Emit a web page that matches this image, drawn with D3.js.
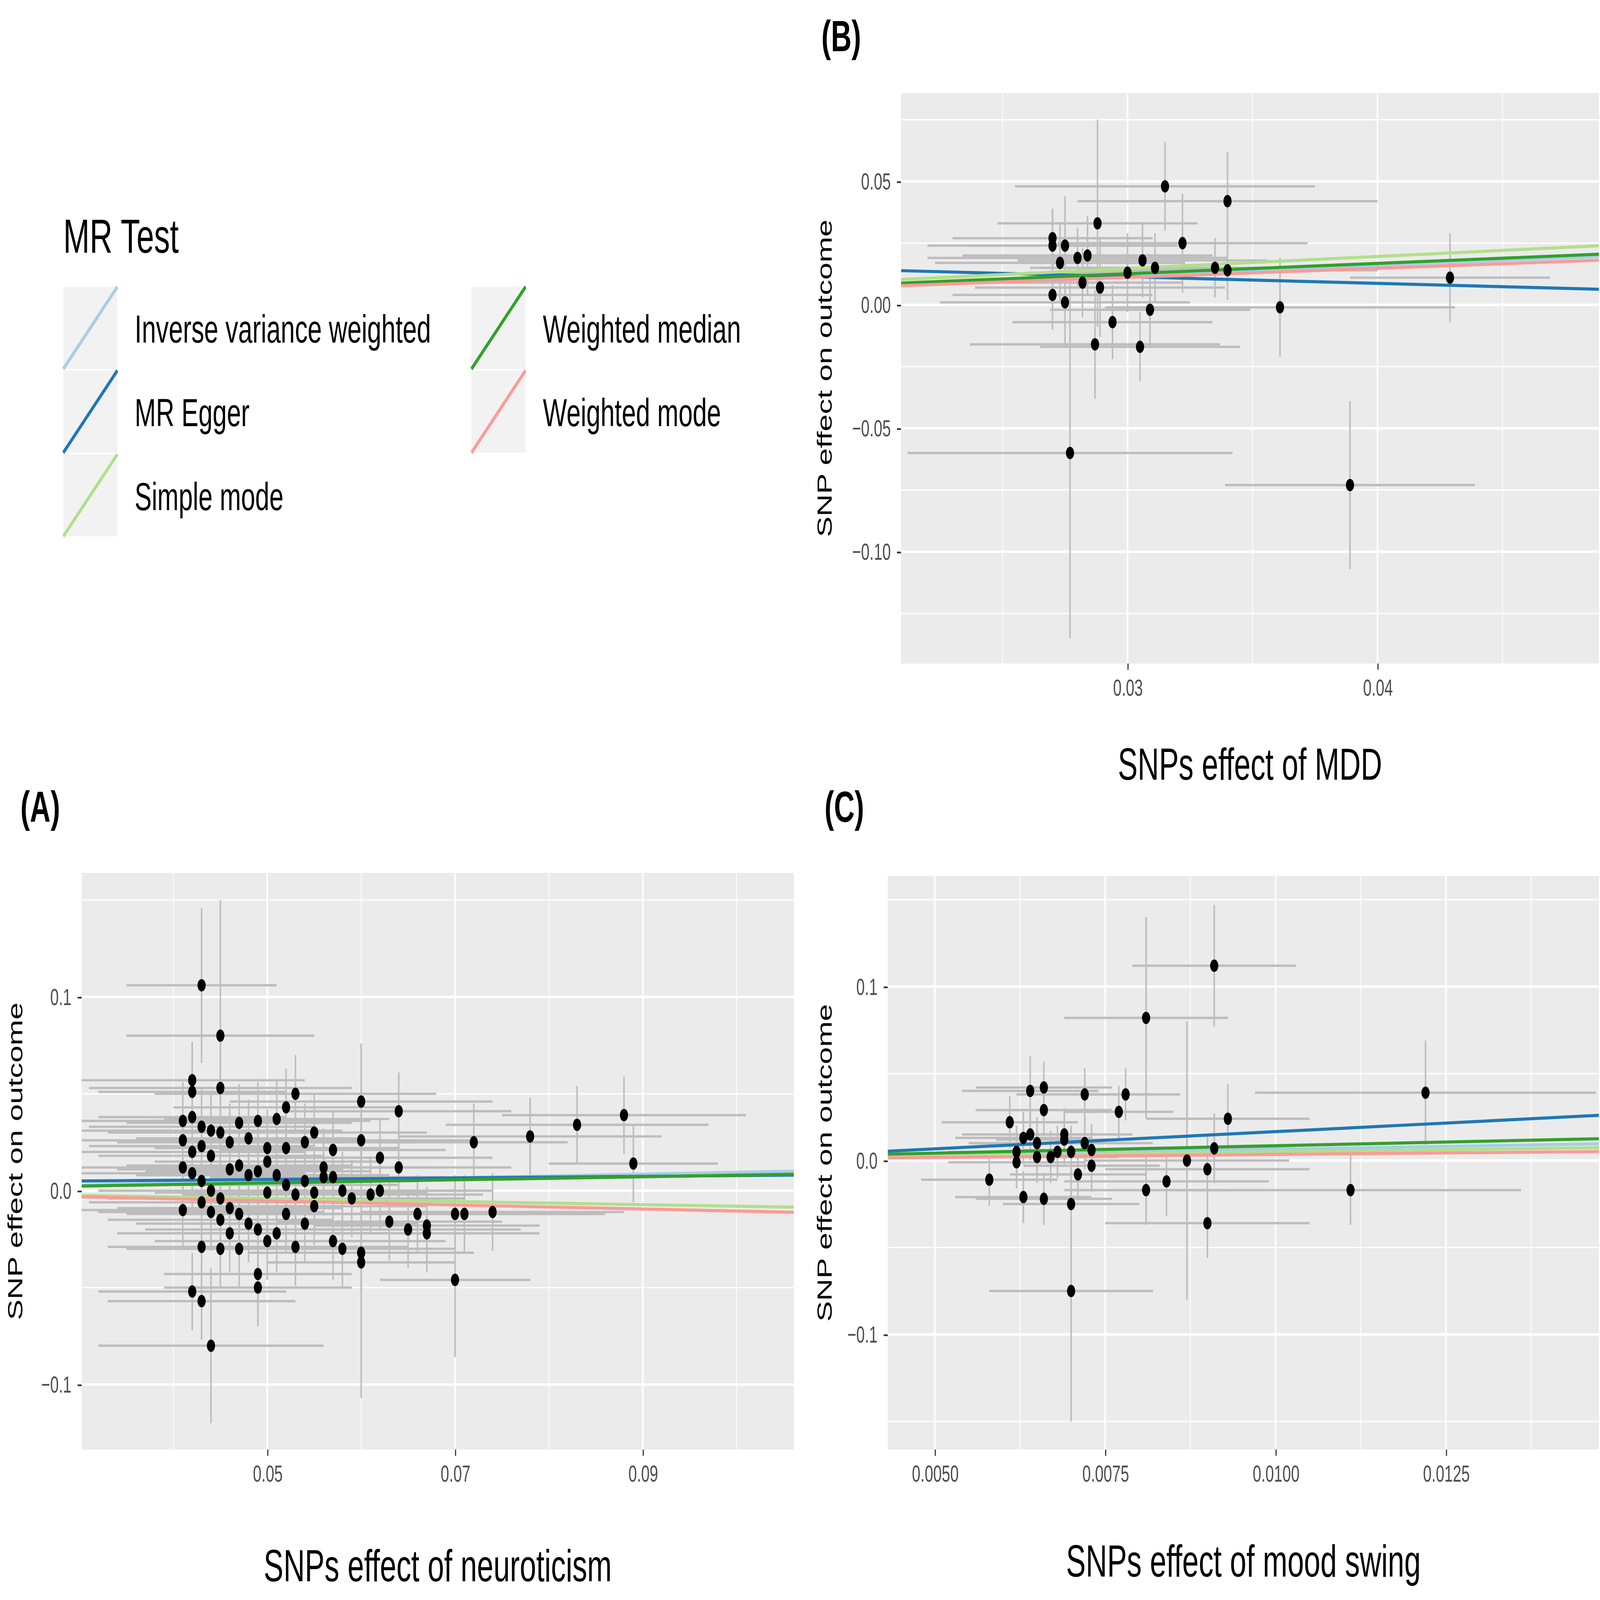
<!DOCTYPE html>
<html><head><meta charset="utf-8">
<script src="https://cdn.jsdelivr.net/npm/d3@7"></script>
<style>html,body{margin:0;padding:0;width:100%;height:100%;overflow:hidden;background:#fff}svg{display:block;width:100vw;height:100vh}</style></head>
<body><svg id="c" viewBox="0 0 1568 1032" preserveAspectRatio="none"></svg>
<script>
// [x, y, xse, yse]
const pointsB=[[0.0270,0.027,0.004,0.012],[0.0270,0.024,0.005,0.015],[0.0270,0.004,0.004,0.014],[0.0273,0.017,0.005,0.016],[0.0275,0.024,0.004,0.02],[0.0275,0.001,0.005,0.018],[0.0280,0.019,0.006,0.012],[0.0282,0.009,0.004,0.014],[0.0284,0.020,0.005,0.016],[0.0288,0.033,0.004,0.042],[0.0289,0.007,0.005,0.02],[0.0294,-0.007,0.004,0.015],[0.0287,-0.016,0.005,0.022],[0.0300,0.013,0.004,0.016],[0.0306,0.018,0.005,0.015],[0.0309,-0.002,0.004,0.015],[0.0311,0.015,0.005,0.014],[0.0305,-0.017,0.004,0.014],[0.0315,0.048,0.006,0.018],[0.0322,0.025,0.005,0.02],[0.0335,0.015,0.007,0.012],[0.0340,0.042,0.006,0.02],[0.0340,0.014,0.006,0.012],[0.0361,-0.001,0.007,0.02],[0.0429,0.011,0.004,0.018],[0.0277,-0.060,0.0065,0.075],[0.0389,-0.073,0.005,0.034]];
const pointsA=[[0.043,0.106,0.008,0.04],[0.045,0.080,0.01,0.07],[0.042,0.057,0.012,0.02],[0.045,0.053,0.014,0.02],[0.053,0.050,0.015,0.02],[0.052,0.043,0.012,0.02],[0.060,0.046,0.014,0.03],[0.064,0.041,0.012,0.02],[0.042,0.051,0.01,0.02],[0.041,0.036,0.012,0.02],[0.042,0.038,0.01,0.02],[0.043,0.033,0.012,0.02],[0.044,0.031,0.014,0.02],[0.045,0.030,0.012,0.02],[0.047,0.035,0.012,0.02],[0.049,0.036,0.012,0.02],[0.051,0.037,0.012,0.02],[0.041,0.026,0.014,0.02],[0.042,0.020,0.012,0.02],[0.043,0.023,0.012,0.02],[0.044,0.018,0.012,0.02],[0.046,0.025,0.012,0.02],[0.048,0.027,0.012,0.02],[0.050,0.022,0.012,0.02],[0.052,0.022,0.012,0.02],[0.054,0.025,0.012,0.02],[0.055,0.030,0.012,0.02],[0.057,0.021,0.012,0.02],[0.056,0.007,0.012,0.02],[0.060,0.026,0.012,0.02],[0.062,0.017,0.012,0.02],[0.064,0.012,0.012,0.02],[0.041,0.012,0.014,0.02],[0.042,0.009,0.012,0.02],[0.043,0.005,0.012,0.02],[0.044,0.000,0.012,0.02],[0.045,-0.004,0.012,0.02],[0.046,0.011,0.012,0.02],[0.047,0.013,0.012,0.02],[0.048,0.008,0.012,0.02],[0.049,0.010,0.012,0.02],[0.050,0.015,0.012,0.02],[0.051,0.008,0.012,0.02],[0.052,0.003,0.012,0.02],[0.053,-0.002,0.012,0.02],[0.054,0.005,0.012,0.02],[0.056,0.012,0.012,0.02],[0.057,0.007,0.012,0.02],[0.058,0.000,0.012,0.02],[0.059,-0.004,0.012,0.02],[0.061,-0.002,0.012,0.02],[0.062,0.000,0.012,0.02],[0.041,-0.010,0.014,0.02],[0.043,-0.006,0.012,0.02],[0.044,-0.011,0.012,0.02],[0.045,-0.015,0.012,0.02],[0.046,-0.009,0.012,0.02],[0.047,-0.012,0.012,0.02],[0.048,-0.017,0.012,0.02],[0.049,-0.020,0.012,0.02],[0.050,-0.026,0.012,0.02],[0.051,-0.022,0.012,0.02],[0.052,-0.012,0.012,0.02],[0.053,-0.029,0.012,0.02],[0.054,-0.017,0.012,0.02],[0.055,-0.008,0.012,0.02],[0.057,-0.026,0.012,0.02],[0.058,-0.030,0.012,0.02],[0.060,-0.032,0.012,0.02],[0.060,-0.037,0.01,0.07],[0.063,-0.016,0.012,0.02],[0.065,-0.020,0.012,0.02],[0.066,-0.012,0.012,0.02],[0.067,-0.018,0.012,0.02],[0.067,-0.022,0.012,0.02],[0.070,-0.012,0.016,0.02],[0.071,-0.012,0.014,0.02],[0.074,-0.011,0.014,0.02],[0.070,-0.046,0.008,0.04],[0.072,0.025,0.01,0.02],[0.078,0.028,0.014,0.02],[0.083,0.034,0.014,0.02],[0.088,0.039,0.013,0.02],[0.089,0.014,0.009,0.02],[0.043,-0.029,0.01,0.02],[0.045,-0.030,0.01,0.02],[0.047,-0.030,0.01,0.02],[0.049,-0.043,0.01,0.02],[0.049,-0.050,0.01,0.02],[0.042,-0.052,0.01,0.02],[0.043,-0.057,0.01,0.02],[0.044,-0.080,0.012,0.04],[0.046,-0.022,0.012,0.02],[0.050,-0.001,0.012,0.02],[0.055,-0.001,0.012,0.02]];
const pointsC=[[0.0058,-0.011,0.001,0.015],[0.0061,0.022,0.001,0.015],[0.0062,0.005,0.001,0.015],[0.0062,-0.001,0.001,0.015],[0.0063,0.013,0.001,0.015],[0.0063,-0.021,0.001,0.015],[0.0064,0.040,0.001,0.02],[0.0064,0.015,0.001,0.015],[0.0065,0.010,0.001,0.015],[0.0065,0.002,0.001,0.015],[0.0066,0.029,0.001,0.015],[0.0066,-0.022,0.001,0.015],[0.0066,0.042,0.001,0.015],[0.0067,0.002,0.001,0.015],[0.0068,0.005,0.001,0.015],[0.0069,0.015,0.001,0.015],[0.0069,0.012,0.001,0.015],[0.0070,-0.025,0.001,0.025],[0.0070,-0.075,0.0012,0.075],[0.0070,0.005,0.001,0.015],[0.0071,-0.008,0.001,0.015],[0.0072,0.038,0.001,0.015],[0.0072,0.010,0.001,0.015],[0.0073,-0.003,0.001,0.015],[0.0073,0.006,0.001,0.015],[0.0077,0.028,0.0008,0.015],[0.0078,0.038,0.0008,0.015],[0.0081,0.082,0.0012,0.058],[0.0081,-0.017,0.0012,0.02],[0.0084,-0.012,0.0015,0.02],[0.0087,0.000,0.0015,0.08],[0.0090,-0.036,0.0015,0.02],[0.0090,-0.005,0.0015,0.02],[0.0091,0.112,0.0012,0.035],[0.0093,0.024,0.0012,0.02],[0.0091,0.007,0.0012,0.02],[0.0111,-0.017,0.0025,0.02],[0.0122,0.039,0.0025,0.03]];
const methods=["Inverse variance weighted","MR Egger","Simple mode","Weighted median","Weighted mode"];
const colors=["#a6cee3","#1f78b4","#b2df8a","#33a02c","#fb9a99"];
// [intercept, slope] per method
const linesA=[[0,0.095],[0.0038,0.04],[0,-0.08],[0,0.08],[0,-0.105]];
const linesB=[[0,0.40],[0.0195,-0.27],[0,0.49],[0,0.42],[0,0.37]];
const linesC=[[0,0.65],[-0.0032,1.98],[0,0.5],[0,0.85],[0,0.35]];

const svg=d3.select("#c");
svg.append("rect").attr("width",1568).attr("height",1032).attr("fill","#fff");
function panel(o){
  const x=d3.scaleLinear().domain(o.xd).range([o.x0,o.x1]);
  const y=d3.scaleLinear().domain(o.yd).range([o.y1,o.y0]);
  const g=svg.append("g");
  g.append("rect").attr("x",o.x0).attr("y",o.y0).attr("width",o.x1-o.x0).attr("height",o.y1-o.y0).attr("fill","#ebebeb");
  o.xmin.forEach(v=>g.append("line").attr("x1",x(v)).attr("x2",x(v)).attr("y1",o.y0).attr("y2",o.y1).attr("stroke","#fff").attr("stroke-width",0.8));
  o.ymin.forEach(v=>g.append("line").attr("y1",y(v)).attr("y2",y(v)).attr("x1",o.x0).attr("x2",o.x1).attr("stroke","#fff").attr("stroke-width",0.8));
  o.xt.forEach(v=>g.append("line").attr("x1",x(v)).attr("x2",x(v)).attr("y1",o.y0).attr("y2",o.y1).attr("stroke","#fff").attr("stroke-width",1.6));
  o.yt.forEach(v=>g.append("line").attr("y1",y(v)).attr("y2",y(v)).attr("x1",o.x0).attr("x2",o.x1).attr("stroke","#fff").attr("stroke-width",1.6));
  const cl=g.append("g");
  const clipId="cl"+o.id;
  svg.append("clipPath").attr("id",clipId).append("rect").attr("x",o.x0).attr("y",o.y0).attr("width",o.x1-o.x0).attr("height",o.y1-o.y0);
  cl.attr("clip-path",`url(#${clipId})`);
  o.pts.forEach(p=>{
    cl.append("line").attr("x1",x(p[0]-p[2])).attr("x2",x(p[0]+p[2])).attr("y1",y(p[1])).attr("y2",y(p[1])).attr("stroke","#bdbdbd").attr("stroke-width",1.5);
    cl.append("line").attr("x1",x(p[0])).attr("x2",x(p[0])).attr("y1",y(p[1]-p[3])).attr("y2",y(p[1]+p[3])).attr("stroke","#bdbdbd").attr("stroke-width",1.5);
  });
  o.lines.forEach((l,i)=>cl.append("line").attr("x1",o.x0).attr("x2",o.x1)
    .attr("y1",y(l[0]+l[1]*o.xd[0])).attr("y2",y(l[0]+l[1]*o.xd[1])).attr("stroke",colors[i]).attr("stroke-width",2));
  o.pts.forEach(p=>cl.append("circle").attr("cx",x(p[0])).attr("cy",y(p[1])).attr("r",4).attr("fill","#000"));
  const xa=g.append("g").attr("transform",`translate(0,${o.y1})`).call(d3.axisBottom(x).tickValues(o.xt).tickFormat((d,i)=>o.xl[i]).tickSize(4).tickPadding(6));
  const ya=g.append("g").attr("transform",`translate(${o.x0},0)`).call(d3.axisLeft(y).tickValues(o.yt).tickFormat((d,i)=>o.yl[i]).tickSize(4).tickPadding(6));
  [xa,ya].forEach(a=>{a.select(".domain").remove();a.selectAll("line").attr("stroke","#333").attr("stroke-width",1.1);
    a.selectAll("text").attr("fill","#4d4d4d").style("font-size","15px").style("font-family","Arial, Liberation Sans, sans-serif");});
  g.append("text").attr("x",(o.x0+o.x1)/2).attr("y",o.xty).attr("text-anchor","middle").style("font-size","29px").style("font-family","Arial, Liberation Sans, sans-serif").text(o.xtitle);
  g.append("text").attr("transform",`translate(${o.ytx},${(o.y0+o.y1)/2}) rotate(-90)`).attr("text-anchor","middle").style("font-size","20px").style("font-family","Arial, Liberation Sans, sans-serif").text("SNP effect on outcome");
  g.append("text").attr("x",o.lx).attr("y",o.ly).style("font-size","28px").style("font-weight","bold").style("font-family","Arial, Liberation Sans, sans-serif").text(o.label);
}
panel({id:"B",x0:883,x1:1567,y0:60,y1:428,xd:[0.02094,0.04886],yd:[-0.1453,0.0858],
  xt:[0.03,0.04],xl:["0.03","0.04"],yt:[0.05,0,-0.05,-0.1],yl:["0.05","0.00","\u22120.05","\u22120.10"],
  xmin:[0.025,0.035,0.045],ymin:[0.075,0.025,-0.025,-0.075,-0.125],pts:pointsB,lines:linesB,
  xtitle:"SNPs effect of MDD",xty:503,ytx:815,label:"(B)",lx:805,ly:33});
panel({id:"A",x0:80,x1:778,y0:563,y1:935,xd:[0.03022,0.1061],yd:[-0.1336,0.164],
  xt:[0.05,0.07,0.09],xl:["0.05","0.07","0.09"],yt:[0.1,0,-0.1],yl:["0.1","0.0","\u22120.1"],
  xmin:[0.04,0.06,0.08,0.1],ymin:[0.15,0.05,-0.05],pts:pointsA,lines:linesA,
  xtitle:"SNPs effect of neuroticism",xty:1020,ytx:22,label:"(A)",lx:20,ly:530});
panel({id:"C",x0:870,x1:1567,y0:565,y1:935,xd:[0.00431,0.014745],yd:[-0.1662,0.1636],
  xt:[0.005,0.0075,0.01,0.0125],xl:["0.0050","0.0075","0.0100","0.0125"],yt:[0.1,0,-0.1],yl:["0.1","0.0","\u22120.1"],
  xmin:[0.00625,0.00875,0.01125,0.01375],ymin:[0.15,0.05,-0.05,-0.15],pts:pointsC,lines:linesC,
  xtitle:"SNPs effect of mood swing",xty:1017,ytx:815,label:"(C)",lx:808,ly:530});
// legend
const lg=svg.append("g").style("font-family","Arial, Liberation Sans, sans-serif");
lg.append("text").attr("x",62).attr("y",163).style("font-size","31px").text("MR Test");
const pos=[[62,185],[62,239],[62,293],[462,185],[462,239]];
methods.forEach((m,i)=>{
  const [px,py]=pos[i];
  lg.append("rect").attr("x",px).attr("y",py).attr("width",53).attr("height",53).attr("fill","#f2f2f2");
  lg.append("line").attr("x1",px).attr("y1",py+53).attr("x2",px+53).attr("y2",py).attr("stroke",colors[i]).attr("stroke-width",2.5);
  lg.append("text").attr("x",px+70).attr("y",py+36).style("font-size","25px").text(m);
});
</script></body></html>
